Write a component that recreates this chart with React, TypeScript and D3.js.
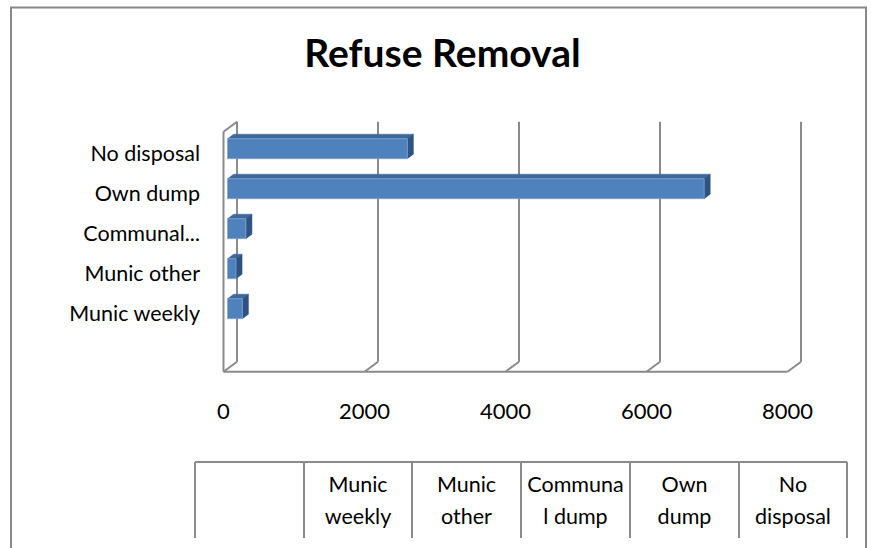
import React from "react";
import * as d3 from "d3";

const categories = ["Munic weekly", "Munic other", "Communal dump", "Own dump", "No disposal"];
const refuseValues = [210, 120, 260, 6760, 2550];
const xTicks = [0, 2000, 4000, 6000, 8000];
const chartTitle = "Refuse Removal";

const W = 871;
const H = 548;
const FONT = "Lato, 'Noto Sans', sans-serif";
const FS = 21.5;
const GRID = "#8a8a8a";

// 3D depth offsets (front -> back)
const DX = 13.5;
const DY = -10;
const FRONT_TOP = 131.7;
const FRONT_BOTTOM = 371.7;

let measureCtx: CanvasRenderingContext2D | null = null;
function textWidth(s: string, font: string) {
  if (!measureCtx) {
    const c = document.createElement("canvas");
    measureCtx = c.getContext("2d");
  }
  if (!measureCtx) return s.length * 10;
  measureCtx.font = font;
  return measureCtx.measureText(s).width;
}

function wrapText(s: string, maxW: number, font: string): string[] {
  const words = s.split(" ");
  const lines: string[] = [];
  let cur = "";
  const breakWord = (w: string) => {
    while (textWidth(w, font) > maxW) {
      let i = w.length;
      while (i > 1 && textWidth(w.slice(0, i), font) > maxW) i--;
      if (cur) { lines.push(cur); cur = ""; }
      lines.push(w.slice(0, i));
      w = w.slice(i);
    }
    return w;
  };
  for (const w of words) {
    const test = cur ? cur + " " + w : w;
    if (textWidth(test, font) <= maxW) {
      cur = test;
    } else if (cur && textWidth(w, font) <= maxW) {
      lines.push(cur);
      cur = w;
    } else {
      const rest = breakWord(w);
      const t2 = cur ? cur + " " + rest : rest;
      if (textWidth(t2, font) <= maxW) cur = t2;
      else { if (cur) lines.push(cur); cur = rest; }
    }
  }
  if (cur) lines.push(cur);
  return lines;
}

function axisLabel(s: string) {
  return s.length > 12 ? s.slice(0, 8) + "..." : s;
}

export default function App() {
  const x = d3.scaleLinear().domain([0, 8000]).range([223.5, 787.5]);
  const y = d3
    .scaleBand<string>()
    .domain([...categories].reverse())
    .range([FRONT_TOP, FRONT_TOP + 200])
    .paddingInner(0.5)
    .paddingOuter(0.25);

  const P = (v: number, yy: number, d: number): [number, number] => [x(v) + d * DX, yy + d * DY];
  const poly = (pts: [number, number][]) => pts.map((p) => p.join(",")).join(" ");

  const d0 = 0.3;
  const d1 = 0.75;

  const tableCols = [195, 304, 412, 521, 630, 739, 847];
  const tableTop = 462;
  const tableBottom = 538;
  const tableFont = `${FS}px ${FONT}`;

  return (
    <svg
      width={W}
      height={H}
      style={{ position: "absolute", left: 0, top: 0, background: "#fff" }}
      fontFamily={FONT}
    >
      <rect x={0} y={0} width={W} height={H} fill="#fff" />
      {/* outer frame */}
      <rect x={11} y={7.5} width={855} height={600} fill="none" stroke="#888" strokeWidth={2} />

      {/* title */}
      <text x={442.5} y={67} textAnchor="middle" fontSize={39} fontWeight="bold" fill="#000">
        {chartTitle}
      </text>

      {/* back wall gridlines and floor diagonals */}
      {xTicks.map((t) => {
        const [bx, by] = P(t, FRONT_TOP, 1);
        const [bbx, bby] = P(t, FRONT_BOTTOM, 1);
        const [fx, fy] = P(t, FRONT_BOTTOM, 0);
        return (
          <g key={t}>
            <line x1={bx} y1={by} x2={bbx} y2={bby} stroke={GRID} strokeWidth={2} />
            <line x1={bbx} y1={bby} x2={fx} y2={fy} stroke={GRID} strokeWidth={2} />
          </g>
        );
      })}
      {/* left wall */}
      {(() => {
        const [ftx, fty] = P(0, FRONT_TOP, 0);
        const [fbx, fby] = P(0, FRONT_BOTTOM, 0);
        const [btx, bty] = P(0, FRONT_TOP, 1);
        return (
          <g>
            <line x1={ftx} y1={fty} x2={fbx} y2={fby} stroke={GRID} strokeWidth={2} />
            <line x1={ftx} y1={fty} x2={btx} y2={bty} stroke={GRID} strokeWidth={2} />
          </g>
        );
      })()}
      {/* floor front edge */}
      <line
        x1={x(0)}
        y1={FRONT_BOTTOM}
        x2={x(8000)}
        y2={FRONT_BOTTOM}
        stroke={GRID}
        strokeWidth={2}
      />

      {/* bars */}
      {categories.map((c, i) => {
        const v = refuseValues[i];
        const y0 = y(c) as number;
        const y1 = y0 + y.bandwidth();
        const front = poly([P(0, y0, d0), P(v, y0, d0), P(v, y1, d0), P(0, y1, d0)]);
        const top = poly([P(0, y0, d0), P(v, y0, d0), P(v, y0, d1), P(0, y0, d1)]);
        const side = poly([P(v, y0, d0), P(v, y0, d1), P(v, y1, d1), P(v, y1, d0)]);
        return (
          <g key={c}>
            <polygon points={top} fill="#3D6898" stroke="#3D6898" strokeWidth={0.5} />
            <polygon points={side} fill="#2E5283" stroke="#2E5283" strokeWidth={0.5} />
            <polygon points={front} fill="#4F81BD" stroke="#7FA3D0" strokeWidth={0.8} />
          </g>
        );
      })}

      {/* category labels */}
      {categories.map((c) => (
        <text
          key={c}
          x={200}
          y={(y(c) as number) + y.bandwidth() / 2 + 9.5}
          textAnchor="end"
          fontSize={FS}
          fill="#000"
        >
          {axisLabel(c)}
        </text>
      ))}

      {/* tick labels */}
      {xTicks.map((t) => (
        <text key={t} x={x(t)} y={419} textAnchor="middle" fontSize={22} fill="#000">
          {t}
        </text>
      ))}

      {/* data table */}
      <line x1={tableCols[0]} y1={tableTop} x2={tableCols[tableCols.length - 1]} y2={tableTop} stroke={GRID} strokeWidth={2} />
      {tableCols.map((cx) => (
        <line key={cx} x1={cx} y1={tableTop} x2={cx} y2={tableBottom} stroke={GRID} strokeWidth={2} />
      ))}
      {categories.map((c, i) => {
        const left = tableCols[i + 1];
        const right = tableCols[i + 2];
        const cx = (left + right) / 2;
        const lines = wrapText(c, right - left - 8, tableFont);
        return (
          <text key={c} x={cx} textAnchor="middle" fontSize={FS} fill="#000">
            {lines.map((l, j) => (
              <tspan key={j} x={cx} y={492 + j * 32}>
                {l}
              </tspan>
            ))}
          </text>
        );
      })}
    </svg>
  );
}
